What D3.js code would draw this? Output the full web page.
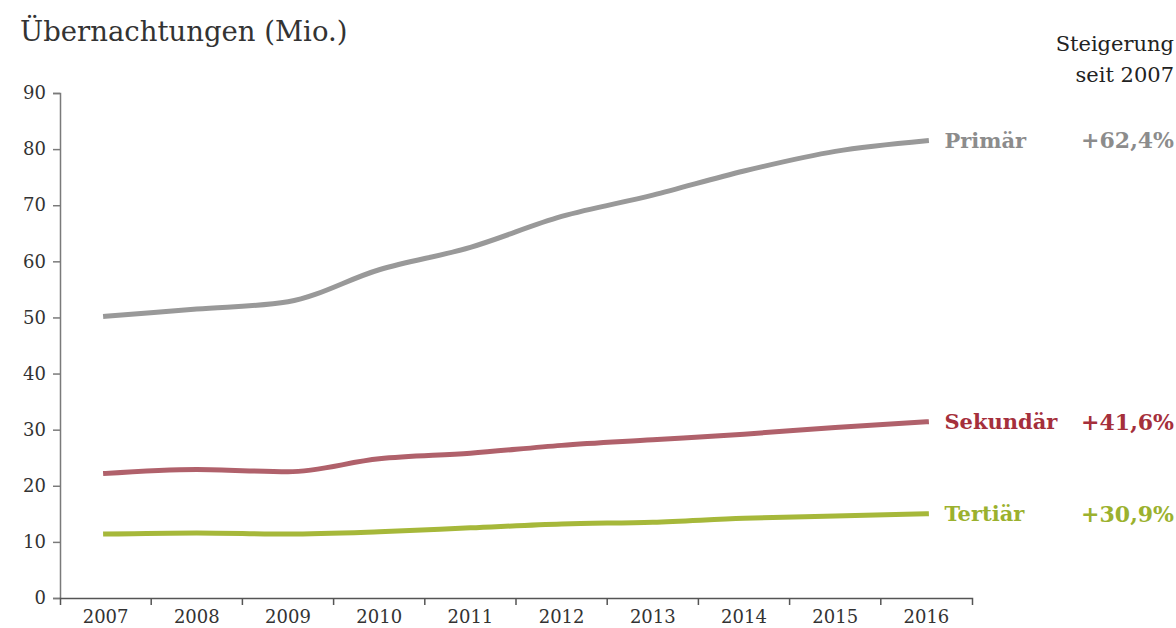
<!DOCTYPE html>
<html>
<head>
<meta charset="utf-8">
<script src="https://cdn.jsdelivr.net/npm/d3@7"></script>
<style>
  body { margin: 0; background: #fff; }
  svg text { font-family: "DejaVu Serif", "Liberation Serif", serif; }
</style>
</head>
<body>
<svg id="chart" width="1176" height="628"></svg>
<script>
// Overnight stays in millions, by sector
const years = ["2007", "2008", "2009", "2010", "2011", "2012", "2013", "2014", "2015", "2016"];
const primaer   = [50.2, 51.5, 52.8, 58.5, 62.5, 68.0, 71.8, 76.1, 79.6, 81.5];
const sekundaer = [22.2, 22.9, 22.5, 24.8, 25.8, 27.2, 28.2, 29.2, 30.4, 31.4];
const tertiaer  = [11.4, 11.6, 11.4, 11.8, 12.5, 13.2, 13.5, 14.2, 14.6, 15.0];
const seriesNames = ["Primär", "Sekundär", "Tertiär"];
const growthLabels = ["+62,4%", "+41,6%", "+30,9%"];
const yTicks = [0, 10, 20, 30, 40, 50, 60, 70, 80, 90];

const lineColors = ["#999999", "#b0616b", "#a6b83a"];
const textColors = ["#8c8c8c", "#a52f3b", "#9bb12e"];

const series = [primaer, sekundaer, tertiaer].map((values, i) => ({
  name: seriesNames[i],
  growth: growthLabels[i],
  values: values.map((v, j) => ({ year: years[j], value: v }))
}));

const svg = d3.select("#chart");

const x = d3.scaleBand().domain(years).range([60, 972]);
const y = d3.scaleLinear().domain([0, 90]).range([598, 93]);
const cx = d => x(d) + x.bandwidth() / 2;

// Title and column header
svg.append("text")
  .attr("x", 20).attr("y", 41)
  .attr("font-size", 27.5).attr("fill", "#333")
  .text("Übernachtungen (Mio.)");

svg.append("text")
  .attr("text-anchor", "end")
  .attr("font-size", 21).attr("fill", "#222")
  .selectAll("tspan")
  .data(["Steigerung", "seit 2007"])
  .join("tspan")
  .attr("x", 1174)
  .attr("y", (d, i) => 51 + i * 31)
  .text(d => d);

// Y axis
const yAxis = svg.append("g")
  .attr("transform", "translate(60,0)")
  .call(d3.axisLeft(y).tickValues(yTicks).tickSize(7).tickPadding(7));
yAxis.selectAll("path, line").attr("stroke", "#7a7a7a").attr("stroke-width", 1.5);
yAxis.selectAll("text")
  .attr("font-family", "DejaVu Serif, serif")
  .attr("font-size", 18).attr("fill", "#333");

// X axis: ticks at band edges, labels centred in bands
const xAxis = svg.append("g")
  .attr("transform", "translate(0,598)")
  .call(d3.axisBottom(x).tickSizeInner(0).tickSizeOuter(7).tickPadding(12));
xAxis.select(".domain").attr("stroke", "#555").attr("stroke-width", 1.5);
xAxis.selectAll("text")
  .attr("font-family", "DejaVu Serif, serif")
  .attr("font-size", 18).attr("fill", "#333");
xAxis.selectAll(".edge")
  .data(years.slice(1))
  .join("line")
  .attr("class", "edge")
  .attr("x1", d => x(d)).attr("x2", d => x(d))
  .attr("y1", 0).attr("y2", 7)
  .attr("stroke", "#555").attr("stroke-width", 1.5);

// Lines
const line = d3.line()
  .x(d => cx(d.year))
  .y(d => y(d.value))
  .curve(d3.curveMonotoneX);

svg.append("g")
  .selectAll("path")
  .data(series)
  .join("path")
  .attr("d", d => line(d.values))
  .attr("fill", "none")
  .attr("stroke", (d, i) => lineColors[i])
  .attr("stroke-width", 5)
  .attr("stroke-linecap", "square");

// End labels: series name and growth since 2007
const last = years[years.length - 1];
const labels = svg.append("g")
  .selectAll("g")
  .data(series)
  .join("g")
  .attr("transform", d => `translate(0,${y(d.values[d.values.length - 1].value)})`);

labels.append("text")
  .attr("x", cx(last) + 18)
  .attr("dy", "0.35em")
  .attr("font-size", 21).attr("font-weight", "bold")
  .attr("fill", (d, i) => textColors[i])
  .text(d => d.name);

labels.append("text")
  .attr("x", 1174)
  .attr("dy", "0.35em")
  .attr("text-anchor", "end")
  .attr("font-size", 22).attr("font-weight", "bold")
  .attr("fill", (d, i) => textColors[i])
  .text(d => d.growth);
</script>
</body>
</html>
